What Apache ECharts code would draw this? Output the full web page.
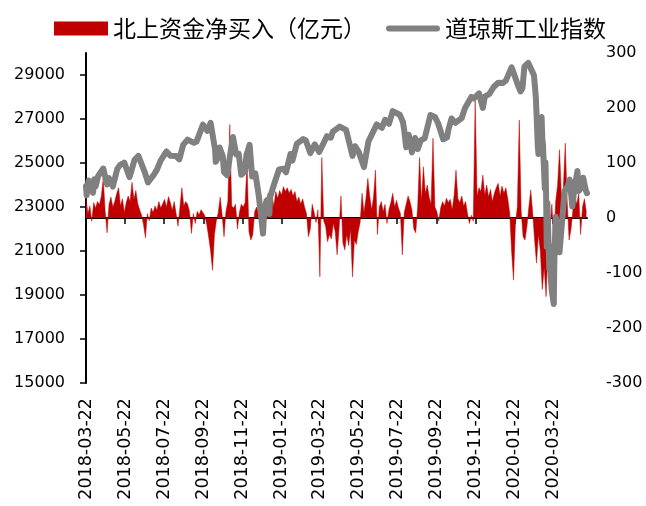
<!DOCTYPE html>
<html>
<head>
<meta charset="utf-8">
<script src="https://cdn.jsdelivr.net/npm/echarts@6/dist/echarts.min.js"></script>
<style>
  html, body { margin: 0; padding: 0; background: #fff; }
  #chart { width: 646px; height: 506px; }
</style>
</head>
<body>
<div id="chart"></div>
<script>
// x 轴：逐日日期（2018-03-22 ~ 2020-05-14）
const startDate = "2018-03-22";
const endDate = "2020-05-14";

// 北上资金净买入（亿元），从 startDate 起每 3 天一个值
const flowStep = 3;
const flowValues = [
  36, 8, 22, -6, 28, 18, 30, 24, 40, 72, 12, -27, 25, 38, 20, 30, 44, 55, 22, 35,
  10, 28, 40, 30, 65, 34, 50, 26, 15, 5, -12, -36, 8, -5, 18, 10, 22, 14, 30, 18,
  26, 34, 20, 39, 28, 14, 30, 8, -15, 20, 55, 22, 30, 25, 12, -28, 8, -10, 12, 6,
  15, 10, 4, -12, -35, -60, -95, -30, -5, 10, 38, 6, -34, 12, 30, 170, 22, 18, 25, -20,
  10, 25, 20, 28, 100, -25, -40, -30, 12, 20, 10, -12, 15, 35, 28, 45, 30, 40, 22, 48,
  36, 50, 42, 57, 48, 55, 45, 52, 40, 48, 30, 38, 25, 35, 20, 8, -34, -20, 25, 10,
  -8, 15, -107, 110, -5, -15, -43, -30, -38, -10, -25, -67, -20, 40, -45, -58, -30, -50, -20, -107,
  -40, -48, -25, -8, 45, 10, 35, 72, 40, 15, 38, 87, -30, 20, 30, 12, 25, -10, 15, 28,
  45, 20, 32, 18, 8, -67, 10, 25, 40, 30, 15, -20, -27, 20, 110, 30, 93, 45, 60, 38,
  25, 145, 20, 12, -6, 18, 30, 22, 36, 28, 34, 15, 40, 87, 35, 28, 40, 22, 30, 8,
  -10, 5, -6, 215, 40, 55, 48, 78, 42, 60, 38, 52, 30, 45, 55, 63, 40, 58, 45, 55,
  35, 10, -60, -113, -10, 20, 178, 12, -34, -40, -15, 20, 51, 10, -40, -82, -30, -60, -130, -90,
  -143, -50, -20, 25, -40, 30, 60, 124, 40, 55, 136, 30, -40, -20, 15, 40, 25, 45, -30, 20,
  35, 10
];

// 道琼斯工业指数
const dowDates = [
  "2018-03-22", "2018-03-23", "2018-03-26", "2018-03-28", "2018-04-02", "2018-04-04", "2018-04-06",
  "2018-04-10", "2018-04-13", "2018-04-18", "2018-04-24", "2018-04-27", "2018-05-03", "2018-05-10",
  "2018-05-14", "2018-05-21", "2018-05-29", "2018-06-01", "2018-06-06", "2018-06-12", "2018-06-22",
  "2018-06-27", "2018-07-02", "2018-07-06", "2018-07-11", "2018-07-17", "2018-07-26", "2018-08-01",
  "2018-08-10", "2018-08-15", "2018-08-21", "2018-08-28", "2018-09-07", "2018-09-11", "2018-09-21",
  "2018-09-28", "2018-10-03", "2018-10-10", "2018-10-11", "2018-10-15", "2018-10-17", "2018-10-22",
  "2018-10-24", "2018-10-29", "2018-11-02", "2018-11-07", "2018-11-12", "2018-11-16", "2018-11-20",
  "2018-11-26", "2018-11-28", "2018-11-30", "2018-12-03", "2018-12-07", "2018-12-10", "2018-12-12",
  "2018-12-17", "2018-12-20", "2018-12-24", "2018-12-26", "2018-12-31", "2019-01-03", "2019-01-04",
  "2019-01-10", "2019-01-18", "2019-01-25", "2019-01-29", "2019-02-05", "2019-02-08", "2019-02-15",
  "2019-02-25", "2019-03-01", "2019-03-08", "2019-03-15", "2019-03-22", "2019-03-25", "2019-04-03",
  "2019-04-09", "2019-04-12", "2019-04-23", "2019-05-03", "2019-05-06", "2019-05-13", "2019-05-17",
  "2019-05-23", "2019-05-31", "2019-06-03", "2019-06-07", "2019-06-20", "2019-06-28", "2019-07-03",
  "2019-07-09", "2019-07-15", "2019-07-26", "2019-07-31", "2019-08-02", "2019-08-05", "2019-08-09",
  "2019-08-12", "2019-08-14", "2019-08-19", "2019-08-23", "2019-08-28", "2019-09-03", "2019-09-12",
  "2019-09-19", "2019-09-24", "2019-10-02", "2019-10-08", "2019-10-10", "2019-10-15", "2019-10-21",
  "2019-10-31", "2019-11-05", "2019-11-15", "2019-11-19", "2019-11-27", "2019-12-03", "2019-12-06",
  "2019-12-13", "2019-12-20", "2019-12-27", "2020-01-03", "2020-01-08", "2020-01-17", "2020-01-27",
  "2020-01-31", "2020-02-03", "2020-02-06", "2020-02-12", "2020-02-21", "2020-02-24", "2020-02-27",
  "2020-02-28", "2020-03-02", "2020-03-04", "2020-03-05", "2020-03-06", "2020-03-09", "2020-03-10",
  "2020-03-11", "2020-03-12", "2020-03-13", "2020-03-16", "2020-03-17", "2020-03-18", "2020-03-20",
  "2020-03-23", "2020-03-24", "2020-03-26", "2020-03-31", "2020-04-01", "2020-04-06", "2020-04-09",
  "2020-04-14", "2020-04-17", "2020-04-21", "2020-04-24", "2020-04-29", "2020-05-01", "2020-05-05",
  "2020-05-08", "2020-05-12", "2020-05-14"
];
const dowValues = [
  23957, 23533, 24202, 23849, 23644, 24264, 23932,
  24408, 24360, 24748, 24024, 24311, 23930, 24740,
  24899, 25013, 24361, 24635, 25146, 25320, 24580,
  24117, 24307, 24456, 24700, 25120, 25527, 25333,
  25313, 25162, 25822, 26064, 25916, 25971, 26743,
  26458, 26828, 25598, 25052, 25250, 25706, 25317,
  24583, 24443, 25270, 26180, 25387, 25413, 24465,
  24640, 25366, 25538, 25826, 24389, 24423, 24527,
  23592, 22859, 21792, 22878, 23327, 22686, 23433,
  24001, 24706, 24737, 24579, 25411, 25106, 25883,
  26091, 26026, 25450, 25848, 25502, 25516, 26218,
  26150, 26412, 26656, 26505, 26438, 25324, 25764,
  25490, 24815, 24820, 25983, 26753, 26600, 26966,
  26783, 27359, 27192, 26864, 26485, 25718, 26287,
  25897, 25479, 26135, 25629, 26036, 26118, 27182,
  27094, 26807, 26078, 26164, 26497, 27024, 26827,
  27046, 27492, 28005, 27934, 28164, 27503, 28015,
  28135, 28455, 28645, 28635, 28745, 29348, 28535,
  28256, 28400, 29379, 29551, 28992, 27961, 25766,
  25409, 26703, 27091, 26121, 25865, 23851, 25018,
  23553, 21200, 23186, 20189, 21237, 19899, 19174,
  18591, 20704, 22552, 21917, 20943, 22680, 23719,
  23949, 24242, 23019, 23775, 24634, 23724, 23883,
  24331, 23764, 23625
];

const leftTicks = [15000, 17000, 19000, 21000, 23000, 25000, 27000, 29000];

function fmt(d) {
  return d.toISOString().slice(0, 10);
}
function addDays(s, n) {
  const d = new Date(s + "T00:00:00Z");
  d.setUTCDate(d.getUTCDate() + n);
  return fmt(d);
}

// 逐日类目
const categories = [];
for (let s = startDate; s <= endDate; s = addDays(s, 1)) categories.push(s);

const flowData = flowValues.map((v, i) => [addDays(startDate, i * flowStep), v]);
const dowData = dowDates.map((d, i) => [d, dowValues[i]]);

// 每两个月的 22 日显示刻度
function showDay(idx, value) {
  return value.slice(8) === "22" && (+value.slice(5, 7)) % 2 === 1;
}

const axisFont = { fontFamily: "DejaVu Sans", fontSize: 16, color: "#000" };

const chart = echarts.init(document.getElementById("chart"));
chart.setOption({
  animation: false,
  grid: { left: 86, right: 59, top: 53, bottom: 123, containLabel: false },
  legend: {
    left: 49,
    top: 12,
    itemWidth: 54,
    itemHeight: 14,
    itemGap: 20,
    textStyle: { fontFamily: "Noto Sans CJK SC", fontSize: 23, color: "#000" },
    data: [
      { name: "北上资金净买入（亿元）", icon: "rect" },
      { name: "道琼斯工业指数", icon: "path://M3,0 L51,0 A3,3 0 0 1 51,6 L3,6 A3,3 0 0 1 3,0 Z" }
    ]
  },
  xAxis: {
    type: "category",
    data: categories,
    boundaryGap: false,
    axisLine: { lineStyle: { color: "#000", width: 2 } },
    axisTick: { interval: showDay, length: 6, lineStyle: { color: "#000", width: 1.5 } },
    axisLabel: Object.assign({ interval: showDay, rotate: 90, margin: 15 }, axisFont, { fontSize: 17.5 })
  },
  yAxis: [
    {
      type: "value",
      min: 15000,
      max: 30000,
      interval: 1000,
      splitLine: { show: false },
      axisLine: { show: true, lineStyle: { color: "#000", width: 2 } },
      axisTick: { show: true, length: 6, customValues: leftTicks, lineStyle: { color: "#000", width: 1.5 } },
      axisLabel: Object.assign({ margin: 21, customValues: leftTicks, formatter: (v) => String(v) }, axisFont)
    },
    {
      type: "value",
      min: -300,
      max: 300,
      interval: 100,
      position: "right",
      splitLine: { show: false },
      axisLine: { show: false },
      axisTick: { show: false },
      axisLabel: Object.assign({ margin: 19, formatter: (v) => String(v) }, axisFont)
    }
  ],
  series: [
    {
      name: "北上资金净买入（亿元）",
      type: "line",
      yAxisIndex: 1,
      symbol: "none",
      data: flowData,
      itemStyle: { color: "#C00000" },
      lineStyle: { color: "#C00000", width: 0.5 },
      areaStyle: { color: "#C00000", opacity: 1 }
    },
    {
      name: "道琼斯工业指数",
      type: "line",
      yAxisIndex: 0,
      symbol: "none",
      data: dowData,
      itemStyle: { color: "#808080" },
      lineStyle: { color: "#808080", width: 6, cap: "round", join: "round" }
    }
  ]
});
</script>
</body>
</html>
